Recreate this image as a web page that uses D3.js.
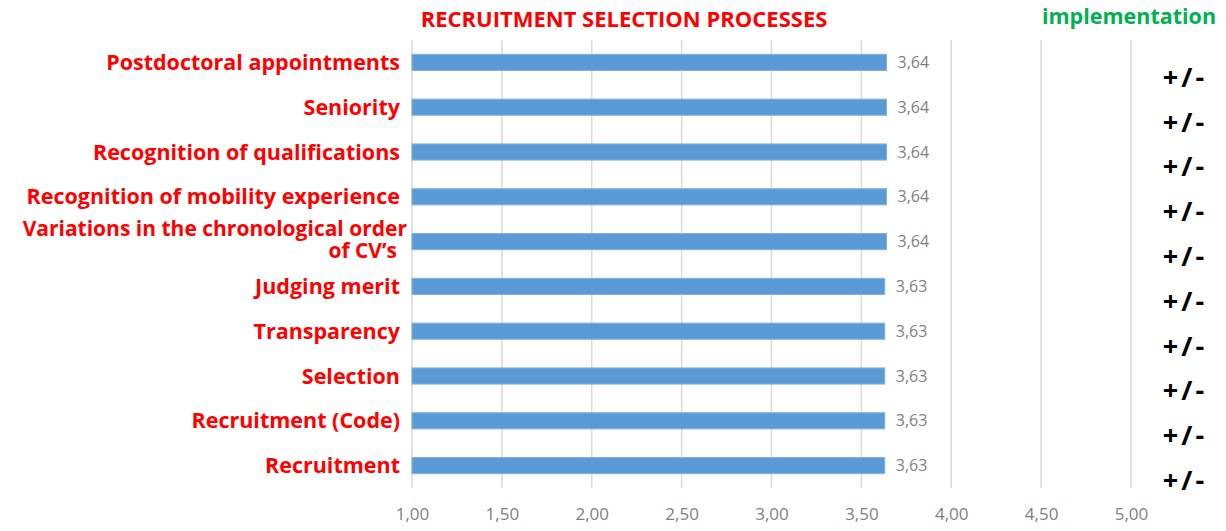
<!DOCTYPE html>
<html>
<head>
<meta charset="utf-8">
<script src="https://cdn.jsdelivr.net/npm/d3@7"></script>
<style>
  body { margin: 0; background: #fff; }
  text { font-family: "Open Sans", "Liberation Sans", sans-serif; }
</style>
</head>
<body>
<div id="chart"></div>
<script>
// --------------------------------------------------
// data, top to bottom
var categories = [
    "Postdoctoral appointments",
    "Seniority",
    "Recognition of qualifications",
    "Recognition of mobility experience",
    "Variations in the chronological order|of CV\u2019s",
    "Judging merit",
    "Transparency",
    "Selection",
    "Recruitment (Code)",
    "Recruitment"
];
var values = [3.64, 3.64, 3.64, 3.64, 3.64, 3.63, 3.63, 3.63, 3.63, 3.63];
var implementation = ["+/-", "+/-", "+/-", "+/-", "+/-", "+/-", "+/-", "+/-", "+/-", "+/-"];
var xTicks = [1, 1.5, 2, 2.5, 3, 3.5, 4, 4.5, 5];

var W = 1226, H = 531;
var margin = { left: 412, right: 95, top: 40, bottom: 43 };
var width = W - margin.left - margin.right;
var height = H - margin.top - margin.bottom;

var svg = d3.select("#chart")
    .append("svg")
    .attr("width", W)
    .attr("height", H);

// title
svg.append("text")
    .attr("x", 624)
    .attr("y", 27)
    .attr("text-anchor", "middle")
    .attr("font-size", "22px")
    .attr("font-weight", "bold")
    .attr("fill", "#ff0000")
    .text("RECRUITMENT SELECTION PROCESSES");

svg.append("text")
    .attr("x", 1129)
    .attr("y", 24)
    .attr("text-anchor", "middle")
    .attr("font-size", "21.5px")
    .attr("font-weight", "bold")
    .attr("fill", "#00b050")
    .text("implementation");

var g = svg.append("g")
    .attr("transform", "translate(" + margin.left + ", " + margin.top + ")");

var x = d3.scaleLinear()
    .domain([1, 5])
    .range([0, width]);

var y = d3.scaleBand()
    .domain(categories)
    .range([0, height])
    .paddingInner(0.64)
    .paddingOuter(0.32);

// gridlines
g.append("g")
    .attr("class", "grid")
    .selectAll("line")
    .data(xTicks)
    .enter()
    .append("line")
    .attr("x1", function(d) { return x(d); })
    .attr("x2", function(d) { return x(d); })
    .attr("y1", 0)
    .attr("y2", height)
    .attr("stroke", "#d9d9d9")
    .attr("stroke-width", 1.5);

// x axis
var xAxisCall = d3.axisBottom(x)
    .tickValues(xTicks)
    .tickSize(0)
    .tickPadding(20)
    .tickFormat(function(d) { return d3.format(".2f")(d).replace(".", ","); });
var xAxis = g.append("g")
    .attr("class", "x-axis")
    .attr("transform", "translate(0, " + height + ")")
    .call(xAxisCall);
xAxis.select(".domain").remove();
xAxis.selectAll("text")
    .attr("font-size", "17px")
    .attr("font-family", "\"Open Sans\", sans-serif")
    .attr("fill", "#7f7f7f");

// bars
g.selectAll("rect.bar")
    .data(categories)
    .enter()
    .append("rect")
    .attr("class", "bar")
    .attr("x", x(1))
    .attr("y", function(d) { return y(d); })
    .attr("width", function(d, i) { return x(values[i]) - x(1); })
    .attr("height", y.bandwidth())
    .attr("fill", "#5b9bd5")
    .attr("stroke", "#7fb2e0")
    .attr("stroke-width", 1);

// value labels
g.selectAll("text.val")
    .data(categories)
    .enter()
    .append("text")
    .attr("class", "val")
    .attr("x", function(d, i) { return x(values[i]) + 11; })
    .attr("y", function(d) { return y(d) + y.bandwidth() / 2; })
    .attr("dy", "0.35em")
    .attr("font-size", "16px")
    .attr("fill", "#7f7f7f")
    .text(function(d, i) { return d3.format(".2f")(values[i]).replace(".", ","); });

// category labels
var labels = g.selectAll("text.cat")
    .data(categories)
    .enter()
    .append("text")
    .attr("class", "cat")
    .attr("text-anchor", "end")
    .attr("font-size", "21.5px")
    .attr("font-weight", "bold")
    .attr("fill", "#ff0000")
    .attr("y", function(d) { return y(d) + y.bandwidth() / 2; });

labels.each(function(d) {
    var parts = d.split("|");
    var t = d3.select(this);
    if (parts.length === 1) {
        t.append("tspan")
            .attr("x", -12)
            .attr("dy", "0.35em")
            .text(parts[0]);
    } else {
        // two-line label, lines close together like the original
        t.attr("font-size", "21px");
        t.append("tspan")
            .attr("x", -5)
            .attr("dy", "-0.27em")
            .text(parts[0]);
        t.append("tspan")
            .attr("x", -15)
            .attr("dy", "1.05em")
            .text(parts[1]);
    }
});

// implementation column
g.selectAll("text.impl")
    .data(categories)
    .enter()
    .append("text")
    .attr("class", "impl")
    .attr("x", 773)
    .attr("y", function(d) { return y(d) + y.bandwidth() / 2 + 15; })
    .attr("dy", "0.35em")
    .attr("text-anchor", "middle")
    .attr("font-size", "27px")
    .attr("font-weight", "bold")
    .attr("letter-spacing", "3px")
    .attr("fill", "#000")
    .text(function(d, i) { return implementation[i]; });
</script>
</body>
</html>
